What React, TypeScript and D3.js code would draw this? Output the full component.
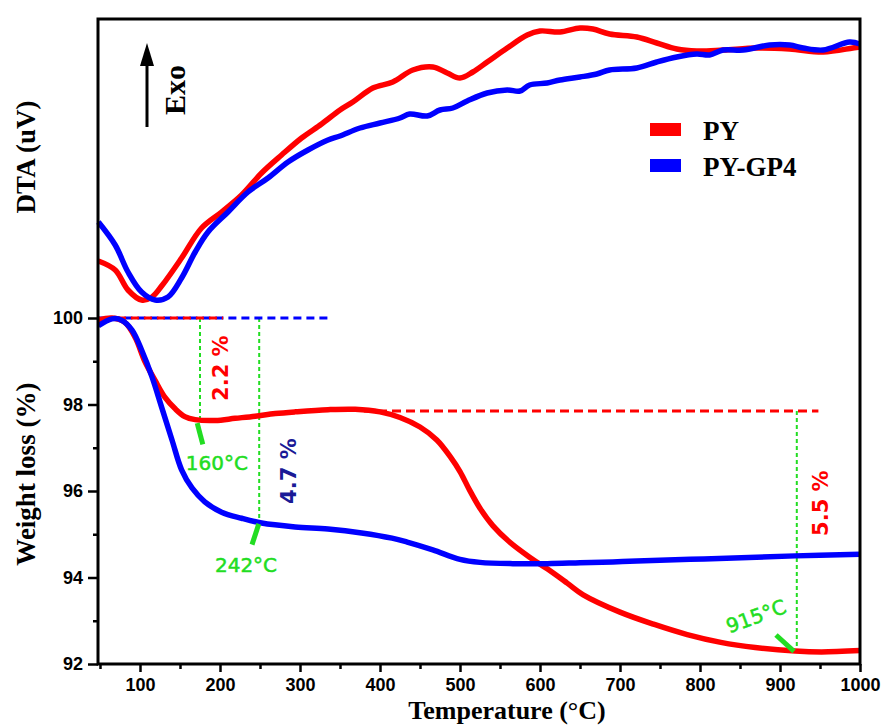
import { useEffect, useRef } from "react";
import * as d3 from "d3";

// DTA signal (arbitrary units, no ticks on the chart) vs temperature (°C)
const dtaPY: [number, number][] = [
  [48, 2.95], [69, 2.5], [85, 1.5], [102, 1.0], [115, 1.15], [128, 1.75], [152, 3.1],
  [177, 4.6], [202, 5.4], [227, 6.25], [252, 7.35], [277, 8.25], [302, 9.1], [327, 9.8],
  [350, 10.5], [366, 10.9], [391, 11.6], [416, 11.9], [441, 12.5], [466, 12.65], [484, 12.35],
  [500, 12.1], [516, 12.4], [534, 12.9], [559, 13.6], [584, 14.25], [600, 14.45], [625, 14.4],
  [650, 14.6], [666, 14.55], [687, 14.3], [721, 14.15], [746, 13.85], [771, 13.55], [796, 13.45],
  [829, 13.5], [871, 13.6], [912, 13.55], [954, 13.4], [991, 13.6], [1000, 13.65],
];
const dtaPYGP4: [number, number][] = [
  [48, 4.9], [69, 3.75], [85, 2.4], [102, 1.4], [119, 1.0], [135, 1.15], [152, 2.1],
  [169, 3.4], [185, 4.4], [210, 5.4], [235, 6.4], [260, 7.1], [285, 7.9], [310, 8.5],
  [335, 9.0], [350, 9.2], [375, 9.6], [400, 9.85], [425, 10.1], [437, 10.3], [459, 10.2],
  [475, 10.5], [491, 10.6], [509, 10.95], [534, 11.35], [559, 11.5], [575, 11.45], [587, 11.75],
  [609, 11.85], [625, 12.0], [650, 12.15], [671, 12.3], [687, 12.5], [721, 12.6], [746, 12.9],
  [771, 13.15], [796, 13.3], [812, 13.25], [829, 13.5], [854, 13.5], [887, 13.75], [912, 13.75],
  [929, 13.6], [954, 13.5], [987, 13.9], [1000, 13.8],
];

// weight (%) vs temperature (°C)
const tgPY: [number, number][] = [
  [48, 99.95], [65, 100.0], [81, 99.9], [94, 99.55], [106, 99.0], [119, 98.55], [131, 98.17],
  [144, 97.9], [156, 97.72], [169, 97.65], [194, 97.63], [219, 97.68], [244, 97.73], [269, 97.79],
  [294, 97.83], [335, 97.88], [369, 97.89], [400, 97.83], [425, 97.7], [450, 97.48], [471, 97.18],
  [488, 96.79], [500, 96.45], [512, 96.02], [525, 95.6], [541, 95.2], [562, 94.82], [587, 94.47],
  [609, 94.2], [634, 93.87], [654, 93.6], [700, 93.2], [742, 92.92], [784, 92.68], [826, 92.5],
  [869, 92.38], [919, 92.3], [952, 92.28], [1000, 92.31],
];
const tgPYGP4: [number, number][] = [
  [48, 99.82], [65, 99.98], [77, 99.95], [90, 99.72], [102, 99.26], [115, 98.64], [127, 97.94],
  [140, 97.18], [152, 96.49], [165, 96.07], [181, 95.75], [202, 95.51], [227, 95.37], [252, 95.26],
  [294, 95.17], [335, 95.12], [377, 95.03], [415, 94.91], [434, 94.82], [466, 94.64], [500, 94.42],
  [525, 94.35], [566, 94.32], [609, 94.32], [650, 94.34], [691, 94.36], [721, 94.38], [805, 94.43],
  [919, 94.5], [1000, 94.54],
];

const xTicks = [100, 200, 300, 400, 500, 600, 700, 800, 900, 1000];
const xMinor = [50, 150, 250, 350, 450, 550, 650, 750, 850, 950];
const yTicks = [92, 94, 96, 98, 100];
const yMinor = [93, 95, 97, 99];

const series = [
  { name: "PY", color: "#ff0000", dta: dtaPY, tg: tgPY },
  { name: "PY-GP4", color: "#0000ff", dta: dtaPYGP4, tg: tgPYGP4 },
];

const GREEN = "#22dd22";
const serif = "'Liberation Serif', 'Times New Roman', serif";
const sans = "'Liberation Sans', Arial, sans-serif";
const anno = "'DejaVu Sans', sans-serif";

export default function App() {
  const ref = useRef<SVGSVGElement>(null);

  useEffect(() => {
    const width = 882;
    const height = 726;
    const left = 98, right = 860, top = 19, bottom = 664;

    const svg = d3.select(ref.current).attr("width", width).attr("height", height);
    svg.selectAll("*").remove();

    const x = d3.scaleLinear().domain([47.5, 1000]).range([left, right]);
    const yTG = d3.scaleLinear().domain([92, 100]).range([bottom, 318]);
    const yDTA = d3.scaleLinear().domain([0, 15]).range([320, 20]);

    // green guide lines (under the curves)
    const guides: [number, number, number][] = [
      [175, 100, 97.63],
      [249, 100, 95.25],
      [921, 97.85, 92.3],
    ];
    guides.forEach(([t, w0, w1]) => {
      svg.append("line")
        .attr("x1", x(t)).attr("x2", x(t))
        .attr("y1", yTG(w0)).attr("y2", yTG(w1))
        .attr("stroke", GREEN).attr("stroke-width", 2)
        .attr("stroke-dasharray", "4,3");
    });

    // dashed reference levels
    svg.append("line")
      .attr("x1", x(48)).attr("x2", x(335))
      .attr("y1", yTG(100)).attr("y2", yTG(100))
      .attr("stroke", "#0000ff").attr("stroke-width", 3)
      .attr("stroke-dasharray", "8,5");
    svg.append("line")
      .attr("x1", x(48)).attr("x2", x(204))
      .attr("y1", yTG(100)).attr("y2", yTG(100))
      .attr("stroke", "#ff0000").attr("stroke-width", 3)
      .attr("stroke-dasharray", "8,5").attr("stroke-dashoffset", 6.5);
    svg.append("line")
      .attr("x1", x(380)).attr("x2", x(948))
      .attr("y1", yTG(97.85)).attr("y2", yTG(97.85))
      .attr("stroke", "#ff0000").attr("stroke-width", 3)
      .attr("stroke-dasharray", "9,5");

    const lineDTA = d3.line<[number, number]>()
      .x(d => x(d[0])).y(d => yDTA(d[1]))
      .curve(d3.curveCatmullRom.alpha(0.5));
    const lineTG = d3.line<[number, number]>()
      .x(d => x(d[0])).y(d => yTG(d[1]))
      .curve(d3.curveCatmullRom.alpha(0.5));

    series.forEach(s => {
      svg.append("path").datum(s.dta)
        .attr("fill", "none").attr("stroke", s.color)
        .attr("stroke-width", 5.5).attr("stroke-linejoin", "round")
        .attr("d", lineDTA);
    });
    series.forEach(s => {
      svg.append("path").datum(s.tg)
        .attr("fill", "none").attr("stroke", s.color)
        .attr("stroke-width", 5.5).attr("stroke-linejoin", "round")
        .attr("d", lineTG);
    });

    // green pointers
    const pointers: [number, number, number, number][] = [
      [171.5, 97.57, 178.5, 97.08],
      [248.5, 95.24, 240, 94.76],
      [917.5, 92.29, 895, 92.67],
    ];
    pointers.forEach(([t0, w0, t1, w1]) => {
      svg.append("line")
        .attr("x1", x(t0)).attr("y1", yTG(w0))
        .attr("x2", x(t1)).attr("y2", yTG(w1))
        .attr("stroke", GREEN).attr("stroke-width", 5);
    });

    // percent labels (rotated)
    const pct: [string, number, number, string][] = [
      ["2.2 %", 210, 98.84, "#ff0000"],
      ["4.7 %", 295, 96.46, "#1a1a96"],
      ["5.5 %", 960, 95.72, "#ff0000"],
    ];
    pct.forEach(([label, t, w, c]) => {
      svg.append("text")
        .attr("transform", `translate(${x(t)},${yTG(w)}) rotate(-90)`)
        .attr("text-anchor", "middle")
        .attr("font-family", anno).attr("font-weight", "bold")
        .attr("font-size", 21).attr("fill", c)
        .text(label);
    });

    // temperature labels
    const temps: [string, number, number, number][] = [
      ["160°C", 196, 96.49, 0],
      ["242°C", 232.5, 94.13, 0],
      ["915°C", 873, 92.95, -20],
    ];
    temps.forEach(([label, t, w, rot]) => {
      svg.append("text")
        .attr("transform", `translate(${x(t)},${yTG(w)}) rotate(${rot})`)
        .attr("text-anchor", "middle")
        .attr("font-family", anno).attr("font-size", 20)
        .attr("stroke", GREEN).attr("stroke-width", 0.5)
        .attr("fill", GREEN)
        .text(label);
    });

    // frame
    svg.append("path")
      .attr("d", `M${left},${bottom}V${top}H${right}V${bottom}Z`)
      .attr("stroke", "#000").attr("stroke-width", 3).attr("fill", "none")
      .attr("stroke-linejoin", "miter");

    // axes
    const styleAxis = (g: d3.Selection<SVGGElement, unknown, null, undefined>) => {
      g.select(".domain").remove();
      g.selectAll(".tick line").attr("stroke", "#000").attr("stroke-width", 2.5);
      g.selectAll(".tick text")
        .attr("fill", "#000").attr("font-family", sans)
        .attr("font-weight", "bold").attr("font-size", 18);
    };

    svg.append("g")
      .attr("transform", `translate(0,${bottom})`)
      .call(d3.axisBottom(x).tickValues(xTicks).tickSize(8).tickPadding(6).tickFormat(d3.format("d")))
      .call(styleAxis);
    svg.append("g")
      .attr("transform", `translate(0,${bottom})`)
      .call(d3.axisBottom(x).tickValues(xMinor).tickSize(5).tickFormat(() => ""))
      .call(styleAxis);
    svg.append("g")
      .attr("transform", `translate(${left},0)`)
      .call(d3.axisLeft(yTG).tickValues(yTicks).tickSize(10).tickPadding(5).tickFormat(d3.format("d")))
      .call(styleAxis);
    svg.append("g")
      .attr("transform", `translate(${left},0)`)
      .call(d3.axisLeft(yTG).tickValues(yMinor).tickSize(5).tickFormat(() => ""))
      .call(styleAxis);

    // axis titles
    svg.append("text")
      .attr("x", (left + right) / 2 + 28).attr("y", 719)
      .attr("text-anchor", "middle")
      .attr("font-family", serif).attr("font-weight", "bold").attr("font-size", 26)
      .text("Temperature (°C)");
    svg.append("text")
      .attr("transform", `translate(35,${yTG(96.39)}) rotate(-90)`)
      .attr("text-anchor", "middle")
      .attr("font-family", serif).attr("font-weight", "bold").attr("font-size", 27)
      .text("Weight loss (%)");
    svg.append("text")
      .attr("transform", `translate(35,${yDTA(8.15)}) rotate(-90)`)
      .attr("text-anchor", "middle")
      .attr("font-family", serif).attr("font-weight", "bold").attr("font-size", 27)
      .text("DTA (uV)");

    // Exo arrow
    const ax = x(108.75);
    svg.append("line")
      .attr("x1", ax).attr("x2", ax)
      .attr("y1", yDTA(9.65)).attr("y2", yDTA(13.2))
      .attr("stroke", "#000").attr("stroke-width", 3);
    svg.append("path")
      .attr("d", `M${ax},${yDTA(13.85)}L${ax - 7},${yDTA(12.7)}L${ax + 7},${yDTA(12.7)}Z`)
      .attr("fill", "#000");
    svg.append("text")
      .attr("transform", `translate(${ax + 38},${yDTA(11.5)}) rotate(-90)`)
      .attr("text-anchor", "middle")
      .attr("font-family", serif).attr("font-weight", "bold").attr("font-size", 30)
      .text("Exo");

    // legend
    const legend = svg.append("g");
    series.forEach((s, i) => {
      const ly = 123 + i * 36;
      legend.append("rect")
        .attr("x", 650).attr("y", ly).attr("width", 31).attr("height", 13)
        .attr("fill", s.color);
      legend.append("text")
        .attr("x", 703).attr("y", ly + 17)
        .attr("font-family", serif).attr("font-weight", "bold").attr("font-size", 27)
        .text(s.name);
    });
  }, []);

  return (
    <svg
      ref={ref}
      style={{ position: "absolute", left: 0, top: 0, background: "#fff" }}
    />
  );
}
